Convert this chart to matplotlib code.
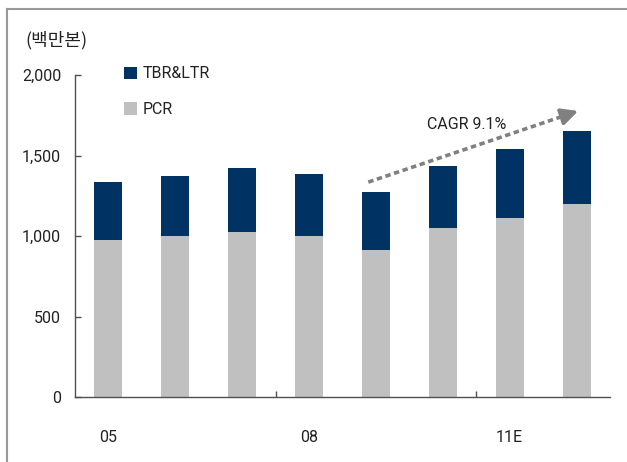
import matplotlib
matplotlib.use("Agg")
import matplotlib.pyplot as plt
from matplotlib.lines import Line2D

# ---- data ----
years = ["05", "06", "07", "08", "09", "10", "11E", "12E"]
pcr = [975, 1000, 1025, 1000, 913, 1050, 1112, 1199]
tbr_ltr = [361, 373, 398, 386, 361, 386, 429, 454]
shown_labels = ["05", "08", "11E"]
y_ticks = [0, 500, 1000, 1500, 2000]
unit_label = "(백만본)"
cagr_text = "CAGR 9.1%"
legend_labels = ["TBR&LTR", "PCR"]

NAVY = "#003263"
GRAY = "#C0C0C0"
TXT = "#222222"
FONT = ["Roboto", "Noto Sans CJK KR", "DejaVu Sans"]
plt.rcParams["font.family"] = FONT

fig = plt.figure(figsize=(6.27, 4.62), dpi=100)
ax = fig.add_axes([75/627, 1-397/462, (610-75)/627, (397-75.3)/462])

x = list(range(len(years)))
b_pcr = ax.bar(x, pcr, width=0.42, color=GRAY, zorder=2)
b_tbr = ax.bar(x, tbr_ltr, width=0.42, bottom=pcr, color=NAVY, zorder=2)

ax.set_xlim(-0.5, 7.5)
ax.set_ylim(0, 2000)

for s in ["top", "right"]:
    ax.spines[s].set_visible(False)
for s in ["left", "bottom"]:
    ax.spines[s].set_color("#505050")
    ax.spines[s].set_linewidth(1.0)

FS = 11.5
ax.set_yticks(y_ticks)
ax.set_yticklabels([f"{v:,}" for v in y_ticks])
ax.tick_params(axis="y", direction="in", length=4.5, width=1, color="#505050",
               pad=10, labelsize=FS, labelcolor=TXT)

idx = [years.index(l) for l in shown_labels]
ax.set_xticks(idx)
ax.set_xticklabels(shown_labels)
ax.tick_params(axis="x", which="major", length=0, pad=24, labelsize=FS, labelcolor=TXT)
ax.set_xticks([2.5, 5.5], minor=True)
ax.tick_params(axis="x", which="minor", direction="in", length=4, width=1, color="#505050")

# legend
leg = ax.legend([b_tbr, b_pcr], legend_labels, loc="upper left",
                bbox_to_anchor=((124-75)/535, 1 + 9/321.7), frameon=False,
                handlelength=0.8, handleheight=0.8, handletextpad=0.35,
                labelspacing=1.3, borderpad=0, borderaxespad=0,
                prop={"size": FS, "family": FONT})
for t in leg.get_texts():
    t.set_color(TXT)

# unit label
fig.text(25/627, 1-40/462, unit_label, fontsize=13, color=TXT, va="center", ha="left",
         family=["Noto Sans CJK KR", "DejaVu Sans"])

# CAGR arrow
x0, y0 = 3.886, 1336
x1, y1 = 7.025, 1778
f = 0.93
xm, ym = x0 + (x1-x0)*f, y0 + (y1-y0)*f
ax.plot([x0, xm], [y0, ym], color="#808080", lw=2.6, linestyle=(0, (1.5, 1.0)),
        solid_capstyle="butt", dash_capstyle="butt", zorder=3)
ax.annotate("", xy=(x1, y1), xytext=(xm - (x1-x0)*0.01, ym - (y1-y0)*0.01),
            arrowprops=dict(arrowstyle="-|>,head_length=1.0,head_width=0.5",
                            color="#808080", lw=2.6, shrinkA=0, shrinkB=0), zorder=3)
ax.text(5.35, 1697, cagr_text, fontsize=FS, color=TXT, ha="center", va="center")

# figure frame lines (top & left)
fig.add_artist(Line2D([7/627, 7/627], [0, 1-9/462], transform=fig.transFigure,
                      color="#999999", lw=1.5))
fig.add_artist(Line2D([7/627, 1], [1-9/462, 1-9/462], transform=fig.transFigure,
                      color="#999999", lw=1.5))

fig.savefig("out.png", dpi=100)
